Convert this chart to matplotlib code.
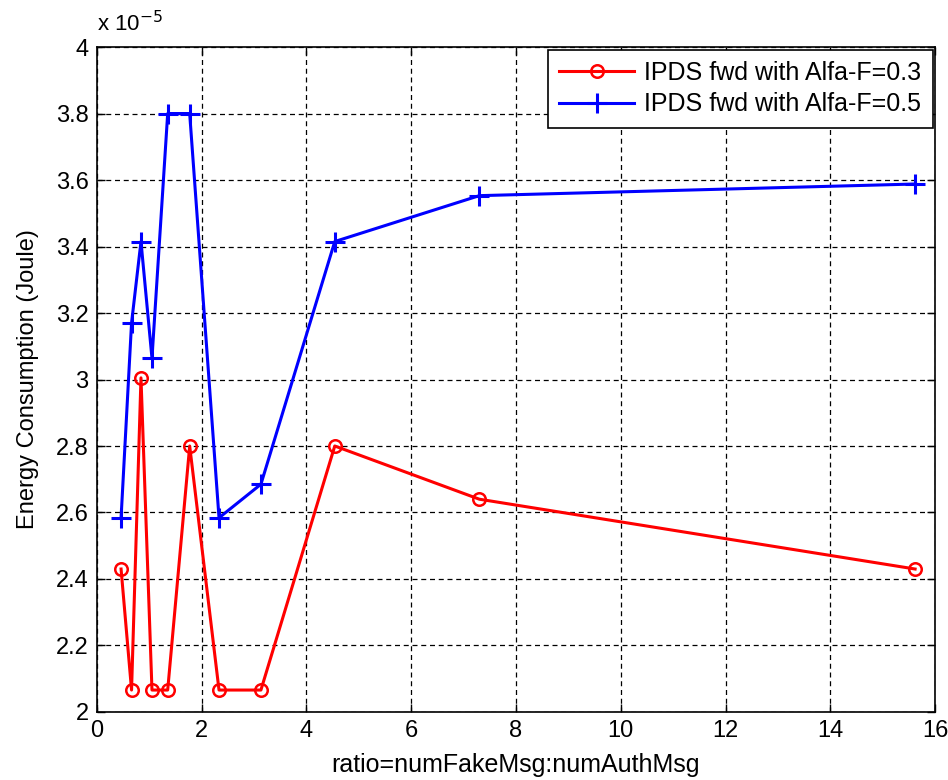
import matplotlib
matplotlib.use("Agg")
import matplotlib.pyplot as plt
from matplotlib.ticker import FuncFormatter, MultipleLocator

plt.rcParams['font.family'] = ['Liberation Sans', 'DejaVu Sans']

# ratio values (shared x)
ratio = [0.46, 0.66, 0.84, 1.05, 1.35, 1.77, 2.33, 3.13, 4.54, 7.3, 15.62]
# energy consumption, in units of 1e-5 Joule
energy_03 = [2.43, 2.066, 3.005, 2.066, 2.066, 2.80, 2.066, 2.066, 2.80, 2.64, 2.43]
energy_05 = [2.584, 3.17, 3.415, 3.064, 3.80, 3.80, 2.584, 2.685, 3.415, 3.553, 3.588]
scale = 1e-5

fig = plt.figure(figsize=(9.48, 7.8), dpi=100)
ax = fig.add_axes([0.1023, 0.0872, 0.8840, 0.8525])

ax.plot(ratio, [v * scale for v in energy_03], color="red", lw=2.2,
        marker="o", ms=9, mfc="none", mec="red", mew=1.8,
        label="IPDS fwd with Alfa-F=0.3")
ax.plot(ratio, [v * scale for v in energy_05], color="blue", lw=2.2,
        marker="+", ms=15, mew=2.2,
        label="IPDS fwd with Alfa-F=0.5")

ax.set_xlim(0, 16)
ax.set_ylim(2e-5, 4e-5)
ax.xaxis.set_major_locator(MultipleLocator(2))
ax.yaxis.set_major_locator(MultipleLocator(0.2e-5))
ax.yaxis.set_major_formatter(FuncFormatter(lambda v, p: f"{v / scale:.4g}"))
ax.grid(True, color="black", linestyle=(0, (4, 3)), linewidth=0.9)
ax.tick_params(direction="in", length=6, width=1, labelsize=17, pad=6,
               top=True, right=True)
for s in ax.spines.values():
    s.set_linewidth(1.2)

ax.set_xlabel("ratio=numFakeMsg:numAuthMsg", fontsize=18, labelpad=8)
ax.set_ylabel("Energy Consumption (Joule)", fontsize=17, labelpad=12)
ax.text(0.0, 1.016, "x 10$^{-5}$", transform=ax.transAxes, fontsize=16,
        ha="left", va="bottom")

leg = ax.legend(loc="upper right", fontsize=18, borderaxespad=0.1,
                fancybox=False, framealpha=1, edgecolor="black",
                handlelength=3.0, handletextpad=0.4, borderpad=0.45,
                labelspacing=0.3)
leg.get_frame().set_linewidth(1.2)

fig.savefig("out.png", dpi=100)
